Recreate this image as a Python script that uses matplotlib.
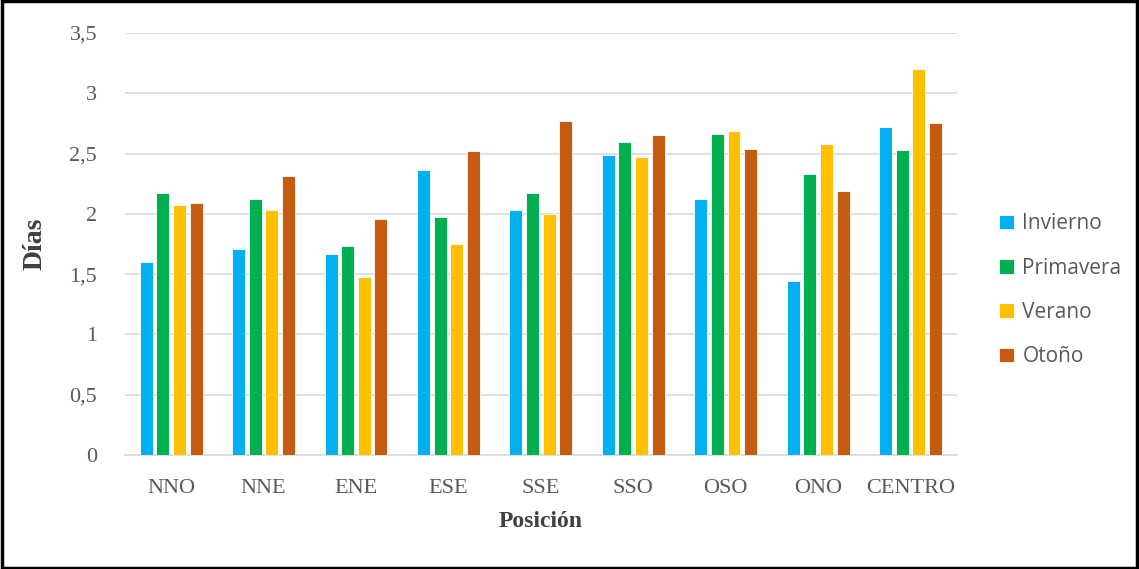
import numpy as np
import matplotlib
matplotlib.use("Agg")
import matplotlib.pyplot as plt
from matplotlib.patches import Rectangle

# Data
posiciones = ['NNO', 'NNE', 'ENE', 'ESE', 'SSE', 'SSO', 'OSO', 'ONO', 'CENTRO']
invierno = [1.60, 1.71, 1.67, 2.36, 2.03, 2.49, 2.12, 1.44, 2.72]
primavera = [2.17, 2.12, 1.73, 1.97, 2.17, 2.60, 2.66, 2.33, 2.53]
verano = [2.07, 2.03, 1.48, 1.75, 2.00, 2.47, 2.69, 2.58, 3.20]
otono = [2.09, 2.31, 1.96, 2.52, 2.77, 2.65, 2.54, 2.19, 2.75]

series = [('Invierno', invierno, '#00B0F0'),
          ('Primavera', primavera, '#00B050'),
          ('Verano', verano, '#FFC000'),
          ('Otoño', otono, '#C55A11')]

fig = plt.figure(figsize=(11.39, 5.69), dpi=100)
ax = fig.add_axes([0.1097, 0.2004, 0.7303, 0.7416])

x = np.arange(len(posiciones))
width = 0.14
step = 0.18
for i, (name, vals, color) in enumerate(series):
    ax.bar(x + (i - 1.5) * step, vals, width, color=color, label=name,
           edgecolor='white', linewidth=0.6, zorder=3)

ax.set_xlim(-0.5, len(posiciones) - 0.5)
ax.set_ylim(0, 3.5)
ax.set_yticks(np.arange(0, 3.51, 0.5))
ax.set_yticklabels(['0', '0,5', '1', '1,5', '2', '2,5', '3', '3,5'])
ax.set_xticks(x)
ax.set_xticklabels(posiciones)

ax.grid(axis='y', color='#D9D9D9', linewidth=1.2, zorder=0)
for s in ['top', 'right', 'left']:
    ax.spines[s].set_visible(False)
ax.spines['bottom'].set_color('#D9D9D9')
ax.spines['bottom'].set_linewidth(1.2)
ax.tick_params(axis='both', length=0, labelcolor='#595959', labelsize=16)
ax.tick_params(axis='x', pad=17)
ax.tick_params(axis='y', pad=20)
for lbl in ax.get_xticklabels() + ax.get_yticklabels():
    lbl.set_family('Liberation Serif')

ax.set_ylabel('Días', family='Liberation Serif', fontsize=20, fontweight='bold',
              color='#404040', labelpad=16)
ax.set_xlabel('Posición', family='Liberation Serif', fontsize=17, fontweight='bold',
              color='#404040', labelpad=10)

leg = fig.legend(loc='center left', bbox_to_anchor=(0.861, 0.49), frameon=False,
                 prop={'family': 'Open Sans', 'size': 15}, labelcolor='#595959',
                 handlelength=0.7, handleheight=0.7, handletextpad=0.4,
                 labelspacing=1.12)

# outer frame
fig.patches.append(Rectangle((0.002, 0.002), 0.996, 0.996, transform=fig.transFigure,
                             fill=False, edgecolor='black', linewidth=2.5))

fig.savefig('out.png', dpi=100)
